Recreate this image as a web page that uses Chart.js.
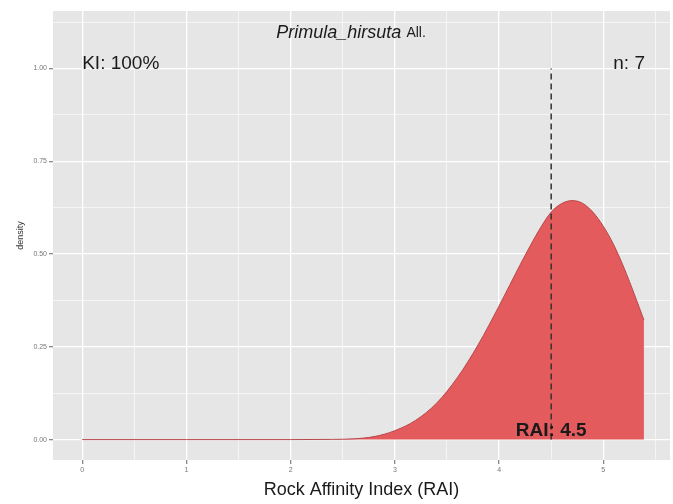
<!DOCTYPE html>
<html>
<head>
    <meta charset="UTF-8">
    <title>Primula hirsuta RAI density</title>
    <script src="https://cdn.jsdelivr.net/npm/chart.js"></script>
    <style>
        body { margin: 0; background: #fff; }
    </style>
</head>
<body>
    <canvas id="densityChart" width="673" height="504"></canvas>

    <script>
        // density curve
        const rai = [0, 1, 2, 2.4, 2.6, 2.8, 3.0, 3.2, 3.4, 3.6, 3.8, 4.0, 4.2, 4.4, 4.5, 4.6, 4.7, 4.8, 4.9, 5.0, 5.1, 5.2, 5.3, 5.39];
        const density = [0, 0, 0, 0.0005, 0.002, 0.008, 0.024, 0.052, 0.098, 0.167, 0.256, 0.36, 0.47, 0.572, 0.613, 0.636, 0.644, 0.637, 0.613, 0.575, 0.525, 0.462, 0.39, 0.322];

        const meanRai = 4.5;
        const xTickVals = [0, 0.5, 1, 1.5, 2, 2.5, 3, 3.5, 4, 4.5, 5, 5.5];
        const yTickVals = [0, 0.125, 0.25, 0.375, 0.5, 0.625, 0.75, 0.875, 1, 1.125];
        const yMajor = [0, 0.25, 0.5, 0.75, 1];

        const FONT = '"Liberation Sans", Arial, sans-serif';

        const isMajorX = v => Number.isInteger(v);
        const isMajorY = v => yMajor.includes(v);

        // grey panel like ggplot
        const panelBg = {
            id: 'panelBg',
            beforeDraw(chart) {
                const a = chart.chartArea;
                const c = chart.ctx;
                c.save();
                c.fillStyle = '#e6e6e6';
                c.fillRect(a.left, a.top, a.right - a.left, a.bottom - a.top);
                c.restore();
            }
        };

        // text annotations inside the panel
        const labels = {
            id: 'labels',
            afterDatasetsDraw(chart) {
                const c = chart.ctx;
                const xs = chart.scales.x, ys = chart.scales.y;
                c.save();
                c.fillStyle = '#1a1a1a';
                c.textBaseline = 'middle';

                // title: italic species name + plain author
                const tx = xs.getPixelForValue(2.58), ty = ys.getPixelForValue(1.097);
                c.font = 'italic 18px ' + FONT;
                const w1 = c.measureText('Primula_hirsuta ').width;
                c.font = '14px ' + FONT;
                const w2 = c.measureText('All.').width;
                const start = tx - (w1 + w2) / 2;
                c.textAlign = 'left';
                c.font = 'italic 18px ' + FONT;
                c.fillText('Primula_hirsuta ', start, ty);
                c.font = '14px ' + FONT;
                c.fillText('All.', start + w1, ty + 1);

                c.font = '19px ' + FONT;
                c.textAlign = 'left';
                c.fillText('KI: 100%', xs.getPixelForValue(0), ys.getPixelForValue(1.012));
                c.textAlign = 'right';
                c.fillText('n: 7', xs.getPixelForValue(5.4), ys.getPixelForValue(1.012));

                c.font = 'bold 19px ' + FONT;
                c.textAlign = 'center';
                c.fillText('RAI: ' + meanRai, xs.getPixelForValue(meanRai), ys.getPixelForValue(0.024));
                c.restore();
            }
        };

        const ctx = document.getElementById('densityChart').getContext('2d');
        new Chart(ctx, {
            type: 'line',
            data: {
                datasets: [
                    {
                        label: 'RAI mean',
                        data: [{ x: meanRai, y: 0 }, { x: meanRai, y: 1 }],
                        borderColor: '#333',
                        borderWidth: 1.5,
                        borderDash: [6, 4],
                        pointRadius: 0,
                        fill: false,
                        order: 0
                    },
                    {
                        label: 'density',
                        data: rai.map((x, i) => ({ x: x, y: density[i] })),
                        borderColor: '#b8494b',
                        borderWidth: 1,
                        backgroundColor: '#e35b5c',
                        pointRadius: 0,
                        fill: 'origin',
                        cubicInterpolationMode: 'monotone',
                        order: 1
                    }
                ]
            },
            options: {
                responsive: false,
                animation: false,
                layout: { padding: { top: 11, right: 3, left: 0, bottom: 0 } },
                plugins: {
                    legend: { display: false },
                    tooltip: { enabled: false }
                },
                scales: {
                    x: {
                        type: 'linear',
                        min: -0.28,
                        max: 5.64,
                        afterBuildTicks: s => { s.ticks = xTickVals.map(v => ({ value: v })); },
                        afterFit: s => { s.height = 44; },
                        border: { display: false },
                        grid: {
                            color: '#ffffff',
                            lineWidth: c => isMajorX(c.tick.value) ? 1.3 : 0.6,
                            tickColor: c => isMajorX(c.tick.value) ? '#888' : 'rgba(0,0,0,0)',
                            tickLength: 4
                        },
                        ticks: {
                            autoSkip: false,
                            maxRotation: 0,
                            padding: 2,
                            color: '#777',
                            font: { family: FONT, size: 7 },
                            callback: v => isMajorX(v) ? String(v) : ''
                        },
                        title: {
                            display: true,
                            text: 'Rock Affinity Index (RAI)',
                            color: '#1a1a1a',
                            font: { family: FONT, size: 18 },
                            padding: { top: 0, bottom: 3 }
                        }
                    },
                    y: {
                        type: 'linear',
                        min: -0.055,
                        max: 1.155,
                        afterBuildTicks: s => { s.ticks = yTickVals.map(v => ({ value: v })); },
                        afterFit: s => { s.width = 53; },
                        border: { display: false },
                        grid: {
                            color: '#ffffff',
                            lineWidth: c => isMajorY(c.tick.value) ? 1.3 : 0.6,
                            tickColor: c => isMajorY(c.tick.value) ? '#888' : 'rgba(0,0,0,0)',
                            tickLength: 4
                        },
                        ticks: {
                            autoSkip: false,
                            padding: 2,
                            color: '#777',
                            font: { family: FONT, size: 7 },
                            callback: v => isMajorY(v) ? v.toFixed(2) : ''
                        },
                        title: {
                            display: true,
                            text: 'density',
                            color: '#333',
                            font: { family: FONT, size: 9 },
                            padding: { top: 15, bottom: 0 }
                        }
                    }
                }
            },
            plugins: [panelBg, labels]
        });
    </script>
</body>
</html>
